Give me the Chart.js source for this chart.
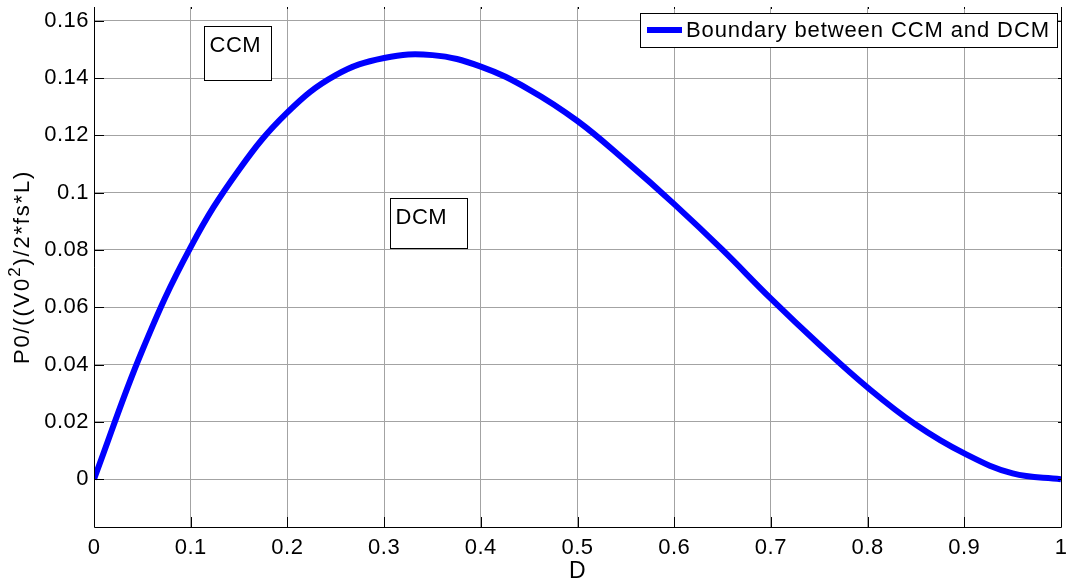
<!DOCTYPE html>
<html lang="en">
<head>
    <meta charset="UTF-8">
    <title>Boundary between CCM and DCM</title>
    <script src="https://cdn.jsdelivr.net/npm/chart.js"></script>
    <style>
        html, body { margin: 0; padding: 0; background: #fff; }
        #wrap { width: 1066px; height: 583px; position: relative; }
    </style>
</head>
<body>
    <div id="wrap">
        <canvas id="boundaryChart"></canvas>
    </div>

    <script>
        // Values
        const dValues = [0, 0.05, 0.1, 0.15, 0.2, 0.25, 0.3, 0.35, 0.4, 0.45, 0.5,
                         0.55, 0.6, 0.65, 0.7, 0.75, 0.8, 0.85, 0.9, 0.95, 1];
        const boundary = [0, 0.045, 0.081, 0.108, 0.128, 0.141, 0.147, 0.148, 0.144, 0.136, 0.125,
                          0.111, 0.096, 0.080, 0.063, 0.047, 0.032, 0.019, 0.009, 0.002, 0];
        const xTicks = [0, 0.1, 0.2, 0.3, 0.4, 0.5, 0.6, 0.7, 0.8, 0.9, 1];
        const yTicks = [0, 0.02, 0.04, 0.06, 0.08, 0.1, 0.12, 0.14, 0.16];
        const seriesLabel = 'Boundary between CCM and DCM';
        const xTitle = 'D';
        const regionLabels = ['CCM', 'DCM'];

        const FONT = '"Liberation Sans", Arial, sans-serif';

        // text boxes, placed in data units
        const boxes = [
            { text: regionLabels[0], x0: 0.1138, x1: 0.183, y0: 0.1582, y1: 0.1393 },
            { text: regionLabels[1], x0: 0.306, x1: 0.3857, y0: 0.0981, y1: 0.0807 }
        ];

        const framePlugin = {
            id: 'frame',
            beforeDraw(chart) {
                const ctx = chart.ctx;
                ctx.save();
                ctx.fillStyle = '#fff';
                ctx.fillRect(0, 0, chart.width, chart.height);
                ctx.restore();
                ctx.letterSpacing = '0.5px';
            },
            afterDraw(chart) {
                const ctx = chart.ctx;
                const a = chart.chartArea;
                const xs = chart.scales.x, ys = chart.scales.y;
                ctx.save();
                ctx.strokeStyle = '#000';
                ctx.lineWidth = 1;

                // box edges (top edge falls outside the picture)
                ctx.beginPath();
                ctx.moveTo(a.left + 0.5, a.top);
                ctx.lineTo(a.left + 0.5, a.bottom + 0.5);
                ctx.lineTo(a.right + 0.5, a.bottom + 0.5);
                ctx.lineTo(a.right + 0.5, a.top);
                ctx.stroke();

                // tick marks
                ctx.beginPath();
                yTicks.forEach(v => {
                    const py = Math.round(ys.getPixelForValue(v)) + 0.5;
                    ctx.moveTo(a.left, py); ctx.lineTo(a.left + 10, py);
                    ctx.moveTo(a.right - 3, py); ctx.lineTo(a.right, py);
                });
                xTicks.forEach(v => {
                    const px = Math.round(xs.getPixelForValue(v)) + 0.5;
                    ctx.moveTo(px, a.bottom); ctx.lineTo(px, a.bottom - 10);
                    ctx.moveTo(px, a.top); ctx.lineTo(px, a.top + 2);
                });
                ctx.stroke();

                // CCM / DCM text boxes
                ctx.font = '22px ' + FONT;
                ctx.textBaseline = 'middle';
                ctx.textAlign = 'left';
                boxes.forEach(b => {
                    const l = Math.round(xs.getPixelForValue(b.x0)) + 0.5;
                    const r = Math.round(xs.getPixelForValue(b.x1)) + 0.5;
                    const t = Math.round(ys.getPixelForValue(b.y0)) + 0.5;
                    const btm = Math.round(ys.getPixelForValue(b.y1)) + 0.5;
                    ctx.fillStyle = '#fff';
                    ctx.fillRect(l, t, r - l, btm - t);
                    ctx.strokeRect(l, t, r - l, btm - t);
                    ctx.fillStyle = '#000';
                    ctx.fillText(b.text, l + 5, t + 19);
                });

                // legend
                const ds = chart.data.datasets[0];
                ctx.fillStyle = '#fff';
                ctx.fillRect(640.5, 13.5, 417, 34);
                ctx.strokeRect(640.5, 13.5, 417, 34);
                ctx.strokeStyle = ds.borderColor;
                ctx.lineWidth = 6;
                ctx.beginPath();
                ctx.moveTo(647, 30); ctx.lineTo(682, 30);
                ctx.stroke();
                ctx.fillStyle = '#000';
                ctx.letterSpacing = '0.9px';
                ctx.fillText(ds.label, 686, 31);

                // x title
                ctx.letterSpacing = '0.5px';
                ctx.font = '23px ' + FONT;
                ctx.textAlign = 'center';
                ctx.fillText(xTitle, (a.left + a.right) / 2, 572);

                // y title with superscript
                ctx.save();
                ctx.translate(22, (a.top + a.bottom) / 2);
                ctx.rotate(-Math.PI / 2);
                ctx.textAlign = 'left';
                ctx.letterSpacing = '1.8px';
                const p1 = 'P0/((V0', p2 = '2', p3 = ')/2*fs*L)';
                ctx.font = '22px ' + FONT;
                const w1 = ctx.measureText(p1).width;
                const w3 = ctx.measureText(p3).width;
                ctx.font = '17px ' + FONT;
                const w2 = ctx.measureText(p2).width;
                let sx = -(w1 + w2 + w3) / 2;
                ctx.font = '22px ' + FONT;
                ctx.fillText(p1, sx, 1);
                sx += w1;
                ctx.font = '17px ' + FONT;
                ctx.fillText(p2, sx, -7);
                sx += w2;
                ctx.font = '22px ' + FONT;
                ctx.fillText(p3, sx, 1);
                ctx.restore();

                ctx.restore();
            }
        };

        const ctx = document.getElementById('boundaryChart').getContext('2d');
        const boundaryChart = new Chart(ctx, {
            type: 'line',
            data: {
                datasets: [{
                    label: seriesLabel,
                    data: dValues.map((d, i) => ({ x: d, y: boundary[i] })),
                    borderColor: '#0000ff',
                    borderWidth: 6,
                    pointRadius: 0,
                    tension: 0.4,
                    fill: false
                }]
            },
            options: {
                responsive: true,
                maintainAspectRatio: false,
                animation: false,
                layout: { padding: { top: 7, right: 5, left: 0, bottom: 0 } },
                plugins: {
                    legend: { display: false },
                    tooltip: { enabled: false }
                },
                scales: {
                    x: {
                        type: 'linear',
                        min: 0,
                        max: 1,
                        afterBuildTicks: s => { s.ticks = xTicks.map(v => ({ value: v })); },
                        afterFit: s => { s.height = 56; s.paddingLeft = 0; s.paddingRight = 0; },
                        grid: { color: '#a3a3a3', lineWidth: 1, drawTicks: false },
                        border: { display: false },
                        ticks: {
                            color: '#000',
                            font: { family: FONT, size: 22 },
                            padding: 8,
                            maxRotation: 0,
                            callback: v => String(Math.round(v * 10) / 10)
                        }
                    },
                    y: {
                        type: 'linear',
                        min: -0.0167,
                        max: 0.1648,
                        afterBuildTicks: s => { s.ticks = yTicks.map(v => ({ value: v })); },
                        afterFit: s => { s.width = 94; s.paddingTop = 0; s.paddingBottom = 0; },
                        grid: { color: '#a3a3a3', lineWidth: 1, drawTicks: false },
                        border: { display: false },
                        ticks: {
                            color: '#000',
                            font: { family: FONT, size: 22 },
                            padding: 5,
                            callback: v => String(Math.round(v * 100) / 100)
                        }
                    }
                }
            },
            plugins: [framePlugin]
        });
    </script>
</body>
</html>
